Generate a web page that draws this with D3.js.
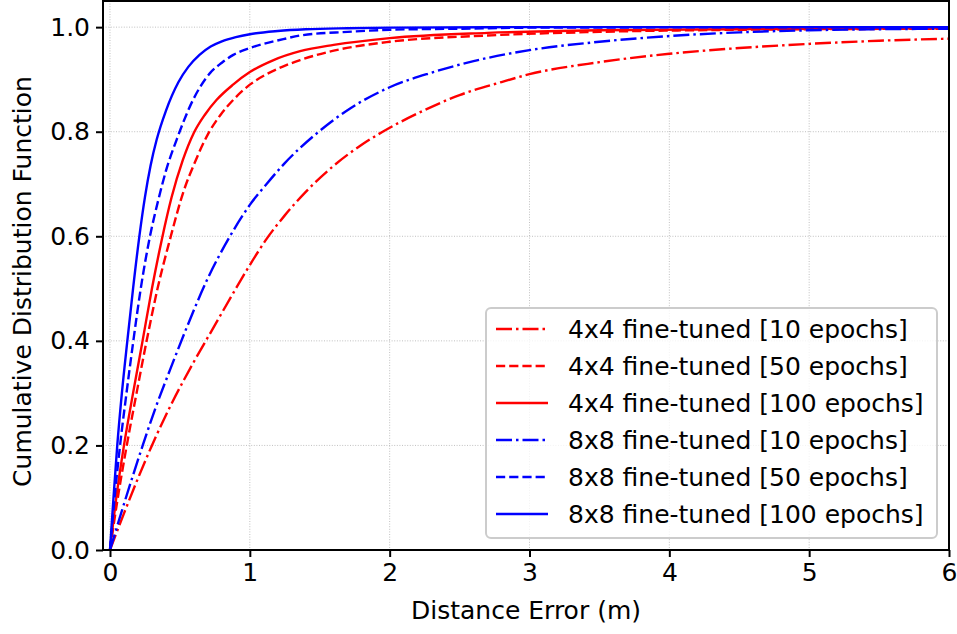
<!DOCTYPE html>
<html>
<head>
<meta charset="utf-8">
<script src="https://cdn.jsdelivr.net/npm/d3@7"></script>
<style>
  html, body { margin: 0; padding: 0; background: #fff; }
  svg { display: block; font-family: "DejaVu Sans", sans-serif; }
</style>
</head>
<body>
<svg id="chart" width="957" height="634"></svg>
<script>
// Tick values
const xTicks = [0, 1, 2, 3, 4, 5, 6];
const yTicks = [0.0, 0.2, 0.4, 0.6, 0.8, 1.0];

// CDF curves: [distance error (m), cumulative probability]
const cdf4x4e10 = [[0,0],[0.1,0.07],[0.2,0.137],[0.3,0.2],[0.45,0.285],[0.6,0.36],[0.75,0.43],[0.9,0.5],[1.0,0.545],[1.12,0.595],[1.25,0.64],[1.4,0.685],[1.6,0.735],[1.8,0.775],[1.95,0.8],[2.2,0.835],[2.5,0.87],[2.8,0.895],[3.0,0.91],[3.5,0.933],[4.0,0.949],[4.5,0.96],[5.0,0.968],[5.5,0.974],[6.0,0.978]];
const cdf4x4e50 = [[0,0],[0.05,0.09],[0.12,0.2],[0.19,0.3],[0.262,0.4],[0.34,0.5],[0.425,0.59],[0.53,0.689],[0.6,0.737],[0.7,0.795],[0.79,0.832],[0.882,0.861],[1.0,0.89],[1.12,0.91],[1.24,0.925],[1.36,0.937],[1.6,0.955],[2.0,0.972],[2.7,0.984],[3.5,0.991],[4.5,0.995],[6.0,0.997]];
const cdf4x4e100 = [[0,0],[0.045,0.1],[0.1,0.2],[0.165,0.3],[0.233,0.4],[0.3,0.5],[0.37,0.593],[0.441,0.675],[0.52,0.745],[0.6,0.798],[0.68,0.833],[0.763,0.861],[0.88,0.89],[1.0,0.914],[1.17,0.937],[1.36,0.954],[1.6,0.966],[2.0,0.979],[2.7,0.989],[3.5,0.994],[4.5,0.996],[6.0,0.998]];
const cdf8x8e10 = [[0,0],[0.1,0.088],[0.234,0.2],[0.33,0.275],[0.43,0.345],[0.548,0.425],[0.7,0.52],[0.858,0.6],[1.0,0.66],[1.12,0.7],[1.25,0.74],[1.47,0.795],[1.72,0.845],[2.0,0.885],[2.3,0.913],[2.6,0.935],[3.0,0.956],[3.5,0.972],[4.0,0.983],[4.5,0.99],[5.0,0.994],[5.5,0.996],[6.0,0.997]];
const cdf8x8e50 = [[0,0],[0.033,0.1],[0.072,0.2],[0.118,0.3],[0.167,0.4],[0.22,0.5],[0.286,0.6],[0.346,0.67],[0.4,0.725],[0.477,0.785],[0.596,0.862],[0.715,0.912],[0.8,0.932],[0.882,0.947],[1.0,0.96],[1.24,0.977],[1.36,0.984],[1.7,0.991],[2.0,0.995],[2.5,0.997],[3.0,0.999],[6.0,1.0]];
const cdf8x8e100 = [[0,0],[0.025,0.1],[0.052,0.2],[0.085,0.3],[0.124,0.4],[0.165,0.5],[0.21,0.6],[0.25,0.675],[0.29,0.735],[0.334,0.785],[0.4,0.84],[0.49,0.895],[0.56,0.924],[0.64,0.947],[0.72,0.963],[0.8,0.973],[0.9,0.981],[1.0,0.9865],[1.2,0.9926],[1.4,0.996],[1.7,0.998],[2.0,0.999],[3.0,1.0],[6.0,1.0]];

const seriesData = [cdf4x4e10, cdf4x4e50, cdf4x4e100, cdf8x8e10, cdf8x8e50, cdf8x8e100];
const seriesLabels = [
  "4x4 fine-tuned [10 epochs]",
  "4x4 fine-tuned [50 epochs]",
  "4x4 fine-tuned [100 epochs]",
  "8x8 fine-tuned [10 epochs]",
  "8x8 fine-tuned [50 epochs]",
  "8x8 fine-tuned [100 epochs]"
];
const seriesColors = ["#ff0000", "#ff0000", "#ff0000", "#0000ff", "#0000ff", "#0000ff"];
const seriesStyles = ["dashdot", "dashed", "solid", "dashdot", "dashed", "solid"];

const dashFor = { solid: null, dashed: "9.2,4", dashdot: "16,4,2.5,4" };

const svg = d3.select("#chart");
const box = { left: 103, right: 949, top: 1, bottom: 550 };
const fontSize = 25;

const x = d3.scaleLinear().domain([-0.05, 6]).range([box.left, box.right]);
const y = d3.scaleLinear().domain([0, 1.05]).range([box.bottom, box.top]);

svg.append("defs").append("clipPath").attr("id", "plotClip")
  .append("rect")
  .attr("x", box.left).attr("y", box.top)
  .attr("width", box.right - box.left).attr("height", box.bottom - box.top);

// Grid
const grid = svg.append("g").attr("class", "grid");
grid.selectAll("line.gx").data(xTicks).join("line")
  .attr("x1", d => x(d)).attr("x2", d => x(d))
  .attr("y1", box.top).attr("y2", box.bottom)
  .attr("stroke", "#b0b0b0").attr("stroke-width", 0.8).attr("stroke-dasharray", "1,1.6");
grid.selectAll("line.gy").data(yTicks).join("line")
  .attr("x1", box.left).attr("x2", box.right)
  .attr("y1", d => y(d)).attr("y2", d => y(d))
  .attr("stroke", "#b0b0b0").attr("stroke-width", 0.8).attr("stroke-dasharray", "1,1.6");

// Curves
const line = d3.line()
  .x(d => x(d[0]))
  .y(d => y(d[1]))
  .curve(d3.curveMonotoneX);

const curves = svg.append("g").attr("clip-path", "url(#plotClip)");
seriesData.forEach((data, i) => {
  curves.append("path")
    .datum(data)
    .attr("d", line)
    .attr("fill", "none")
    .attr("stroke", seriesColors[i])
    .attr("stroke-width", 2.4)
    .attr("stroke-dasharray", dashFor[seriesStyles[i]])
    .attr("stroke-linejoin", "round");
});

// Axes
const xAxis = d3.axisBottom(x).tickValues(xTicks).tickFormat(d3.format("d"))
  .tickSize(7).tickPadding(6);
const yAxis = d3.axisLeft(y).tickValues(yTicks).tickFormat(d3.format(".1f"))
  .tickSize(7).tickPadding(6);

const gx = svg.append("g").attr("transform", `translate(0,${box.bottom})`).call(xAxis);
const gy = svg.append("g").attr("transform", `translate(${box.left},0)`).call(yAxis);
[gx, gy].forEach(g => {
  g.select(".domain").remove();
  g.selectAll(".tick line").attr("stroke", "#000").attr("stroke-width", 2);
  g.selectAll(".tick text").attr("fill", "#000")
    .style("font-size", fontSize + "px").style("font-family", "'DejaVu Sans', sans-serif");
});

// Frame
svg.append("rect")
  .attr("x", box.left).attr("y", box.top)
  .attr("width", box.right - box.left).attr("height", box.bottom - box.top)
  .attr("fill", "none").attr("stroke", "#000").attr("stroke-width", 2);

// Axis titles
svg.append("text")
  .attr("x", (box.left + box.right) / 2).attr("y", 619)
  .attr("text-anchor", "middle")
  .style("font-size", fontSize + "px")
  .text("Distance Error (m)");
svg.append("text")
  .attr("transform", `translate(31,${(box.top + box.bottom) / 2 + 6}) rotate(-90)`)
  .attr("text-anchor", "middle")
  .style("font-size", fontSize + "px")
  .text("Cumulative Distribution Function");

// Legend
const legend = svg.append("g");
legend.append("rect")
  .attr("x", 486).attr("y", 308).attr("width", 451).attr("height", 230)
  .attr("rx", 5).attr("ry", 5)
  .attr("fill", "#fff").attr("fill-opacity", 0.8)
  .attr("stroke", "#cccccc").attr("stroke-width", 2);
const rowTop = 329, rowStep = 37;
seriesLabels.forEach((label, i) => {
  const cy = rowTop + i * rowStep;
  legend.append("line")
    .attr("x1", 496).attr("x2", 548).attr("y1", cy).attr("y2", cy)
    .attr("stroke", seriesColors[i]).attr("stroke-width", 2.4)
    .attr("stroke-dasharray", dashFor[seriesStyles[i]]);
  legend.append("text")
    .attr("x", 568).attr("y", cy).attr("dy", "0.36em")
    .style("font-size", fontSize + "px")
    .text(label);
});
</script>
</body>
</html>
